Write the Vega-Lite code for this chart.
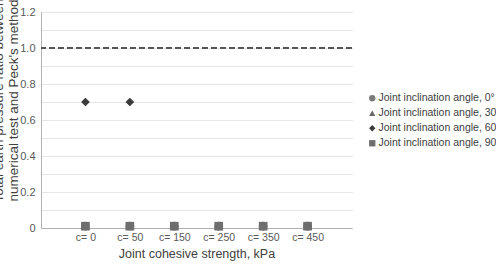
{
  "$schema": "https://vega.github.io/schema/vega-lite/v6.json",
  "width": 311,
  "height": 216,
  "padding": {"left": 41, "top": 12, "right": 144, "bottom": 37},
  "autosize": "none",
  "background": "white",
  "config": {
    "view": {"stroke": null},
    "font": "Liberation Sans",
    "axis": {"labelFont": "Liberation Sans", "titleFont": "Liberation Sans", "labelColor": "#595959", "titleColor": "#404040", "titleFontWeight": "normal"},
    "legend": {"labelFont": "Liberation Sans"}
  },
  "datasets": {
    "pts": [
      {"c": "c= 0", "angle": "Joint inclination angle, 0°", "ratio": 0.01},
      {"c": "c= 50", "angle": "Joint inclination angle, 0°", "ratio": 0.01},
      {"c": "c= 150", "angle": "Joint inclination angle, 0°", "ratio": 0.01},
      {"c": "c= 250", "angle": "Joint inclination angle, 0°", "ratio": 0.01},
      {"c": "c= 350", "angle": "Joint inclination angle, 0°", "ratio": 0.01},
      {"c": "c= 450", "angle": "Joint inclination angle, 0°", "ratio": 0.01},
      {"c": "c= 0", "angle": "Joint inclination angle, 30°", "ratio": 0.01},
      {"c": "c= 50", "angle": "Joint inclination angle, 30°", "ratio": 0.01},
      {"c": "c= 150", "angle": "Joint inclination angle, 30°", "ratio": 0.01},
      {"c": "c= 250", "angle": "Joint inclination angle, 30°", "ratio": 0.01},
      {"c": "c= 350", "angle": "Joint inclination angle, 30°", "ratio": 0.01},
      {"c": "c= 450", "angle": "Joint inclination angle, 30°", "ratio": 0.01},
      {"c": "c= 0", "angle": "Joint inclination angle, 60°", "ratio": 0.70},
      {"c": "c= 50", "angle": "Joint inclination angle, 60°", "ratio": 0.70},
      {"c": "c= 150", "angle": "Joint inclination angle, 60°", "ratio": 0.01},
      {"c": "c= 250", "angle": "Joint inclination angle, 60°", "ratio": 0.01},
      {"c": "c= 350", "angle": "Joint inclination angle, 60°", "ratio": 0.01},
      {"c": "c= 450", "angle": "Joint inclination angle, 60°", "ratio": 0.01},
      {"c": "c= 0", "angle": "Joint inclination angle, 90°", "ratio": 0.01},
      {"c": "c= 50", "angle": "Joint inclination angle, 90°", "ratio": 0.01},
      {"c": "c= 150", "angle": "Joint inclination angle, 90°", "ratio": 0.01},
      {"c": "c= 250", "angle": "Joint inclination angle, 90°", "ratio": 0.01},
      {"c": "c= 350", "angle": "Joint inclination angle, 90°", "ratio": 0.01},
      {"c": "c= 450", "angle": "Joint inclination angle, 90°", "ratio": 0.01}
    ],
    "ref": [{"ratio": 1.0}]
  },
  "layer": [
    {
      "data": {"name": "ref"},
      "mark": {"type": "rule", "stroke": "#555555", "strokeWidth": 2, "strokeDash": [6, 3]},
      "encoding": {
        "y": {
          "field": "ratio", "type": "quantitative",
          "scale": {"domain": [0, 1.2], "nice": false},
          "axis": {
            "tickCount": 20,
            "values": [0, 0.1, 0.2, 0.3, 0.4, 0.5, 0.6, 0.7, 0.8, 0.9, 1.0, 1.1, 1.2],
            "labelExpr": "round(datum.value * 10) % 2 == 0 ? (datum.value == 0 ? '0' : format(datum.value, '.1f')) : ''",
            "labelOverlap": false,
            "labelFontSize": 11, "labelPadding": 6, "ticks": false,
            "domainColor": "#b0b0b0",
            "grid": true, "gridColor": "#cccccc", "gridDash": [1, 1], "gridWidth": 1,
            "title": ["Total earth pressure ratio between", "numerical test and Peck's method"],
            "titleFontSize": 13.5, "titleAngle": -90, "titleBaseline": "middle", "titleAlign": "center",
            "titleX": -43, "titleY": 88, "titleLineHeight": 15
          }
        }
      }
    },
    {
      "data": {"name": "pts"},
      "mark": {"type": "point", "filled": true, "opacity": 1, "size": 75},
      "encoding": {
        "x": {
          "field": "c", "type": "nominal",
          "sort": ["c= 0", "c= 50", "c= 150", "c= 250", "c= 350", "c= 450"],
          "scale": {"type": "point", "padding": 1},
          "axis": {
            "title": "Joint cohesive strength, kPa", "titleFontSize": 12.5, "titlePadding": 5,
            "labelAngle": 0, "labelFontSize": 10.5, "labelPadding": 4,
            "ticks": false, "domainColor": "#b0b0b0", "grid": false
          }
        },
        "y": {"field": "ratio", "type": "quantitative"},
        "shape": {
          "field": "angle", "type": "nominal",
          "scale": {"range": ["circle", "triangle-up", "diamond", "square"]},
          "legend": {
            "title": null, "orient": "none", "legendX": 326, "legendY": 81,
            "labelFontSize": 10.5, "labelColor": "#404040", "symbolSize": 40,
            "rowPadding": 4, "labelOffset": 1, "labelLimit": 200
          }
        },
        "color": {
          "field": "angle", "type": "nominal",
          "scale": {"range": ["#7a7a7a", "#6a6a6a", "#3a3a3a", "#6e6e6e"]},
          "legend": {
            "title": null, "orient": "none", "legendX": 326, "legendY": 81,
            "labelFontSize": 10.5, "labelColor": "#404040", "symbolSize": 40,
            "rowPadding": 4, "labelOffset": 1, "labelLimit": 200
          }
        }
      }
    }
  ]
}
